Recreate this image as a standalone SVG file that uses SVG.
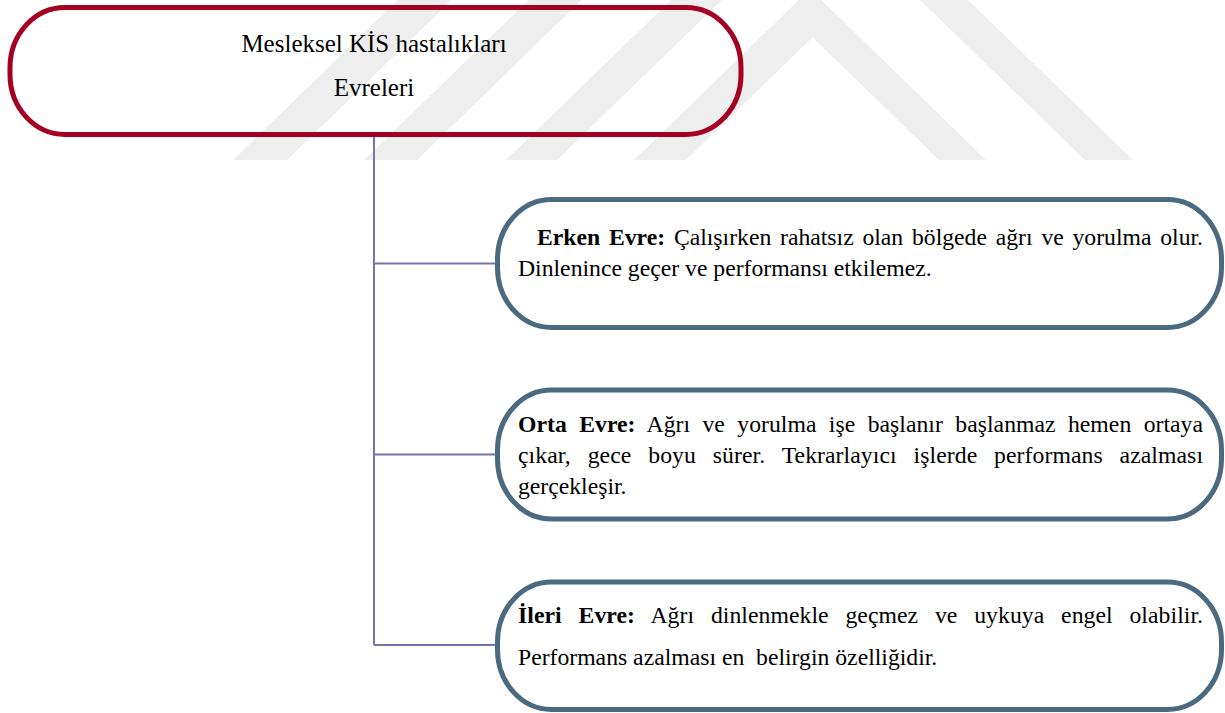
<svg xmlns="http://www.w3.org/2000/svg" width="1225" height="713" viewBox="0 0 1225 713">
<style>
  .wm { fill: #EEEEEE; stroke: none; }
  .root { fill: none; stroke: #A50021; stroke-width: 5; }
  .box { fill: none; stroke: #4B6A80; stroke-width: 5; }
  .conn { fill: none; stroke: #7A74AC; stroke-width: 2; }
  .title { font-family: "Liberation Serif", "Times New Roman", serif; font-size: 25px; fill: #000; text-anchor: middle; }
  .body { font-family: "Liberation Serif", "Times New Roman", serif; font-size: 23.7px; fill: #000; white-space: pre; }
  .b { font-weight: bold; }
</style>
<rect x="0" y="0" width="1225" height="713" fill="#FFFFFF"/>
<g id="watermark">
  <polygon class="wm" points="634,160 810,-11 986,160 939,160 812.5,37.2 686,160"/>
  <polygon class="wm" points="506,160 819.5,-144 1133,160 1085,160 821,-96 557,160"/>
  <polygon class="wm" points="364,160 540,-11 593,-11 417,160"/>
  <polygon class="wm" points="233,160 409,-11 463,-11 287,160"/>
</g>
<g id="connectors">
  <path class="conn" d="M374,136 V645"/>
  <path class="conn" d="M374,263.5 H497"/>
  <path class="conn" d="M374,454.5 H497"/>
  <path class="conn" d="M374,645 H497"/>
</g>
<g id="root">
  <rect class="root" x="10" y="7.5" width="731" height="127" rx="55" ry="60"/>
  <text class="title" x="374" y="52">Mesleksel KİS hastalıkları</text>
  <text class="title" x="374" y="96">Evreleri</text>
</g>
<g id="erken">
  <rect class="box" x="497.5" y="199.5" width="724" height="128" rx="54" ry="60"/>
  <text class="body" x="537" y="245" xml:space="preserve" word-spacing="2.9" textLength="666" lengthAdjust="spacing"><tspan class="b">Erken Evre:</tspan> Çalışırken rahatsız olan bölgede ağrı ve yorulma olur.</text>
  <text class="body" x="518" y="276">Dinlenince geçer ve performansı etkilemez.</text>
</g>
<g id="orta">
  <rect class="box" x="497.5" y="390" width="724" height="129" rx="54" ry="60"/>
  <text class="body" x="518" y="432" xml:space="preserve" word-spacing="6.4" textLength="685" lengthAdjust="spacing"><tspan class="b">Orta Evre:</tspan> Ağrı ve yorulma işe başlanır başlanmaz hemen ortaya</text>
  <text class="body" x="518" y="463" word-spacing="10.9" textLength="685" lengthAdjust="spacing">çıkar, gece boyu sürer. Tekrarlayıcı işlerde performans azalması</text>
  <text class="body" x="518" y="494">gerçekleşir.</text>
</g>
<g id="ileri">
  <rect class="box" x="497.5" y="582" width="724" height="127.5" rx="54" ry="60"/>
  <text class="body" x="518" y="623" xml:space="preserve" word-spacing="10.8" textLength="685" lengthAdjust="spacing"><tspan class="b">İleri Evre:</tspan> Ağrı dinlenmekle geçmez ve uykuya engel olabilir.</text>
  <text class="body" x="518" y="665" xml:space="preserve">Performans azalması en  belirgin özelliğidir.</text>
</g>
</svg>
